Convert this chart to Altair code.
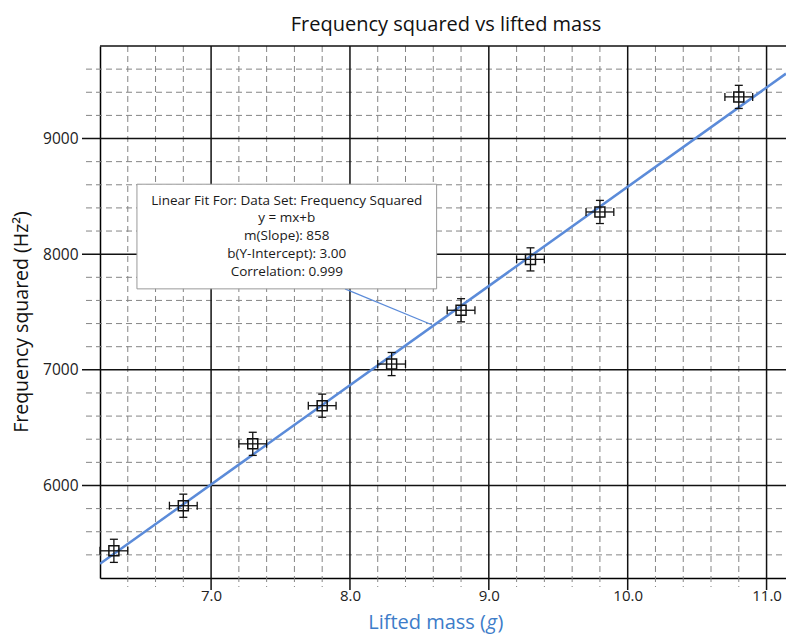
import altair as alt
import pandas as pd
import numpy as np

# ---- data ----
mass = [6.3, 6.8, 7.3, 7.8, 8.3, 8.8, 9.3, 9.8, 10.8]
freq_sq = [5435, 5825, 6360, 6690, 7050, 7515, 7955, 8365, 9360]
mass_err = [0.1, 0.1, 0.1, 0.1, 0.1, 0.1, 0.1, 0.1, 0.1]
freq_err = [100, 100, 100, 100, 100, 100, 100, 100, 100]

fit_slope = 858
fit_intercept = 3.00
fit_corr = 0.999

x_ticks = [7.0, 8.0, 9.0, 10.0, 11.0]
y_ticks = [6000, 7000, 8000, 9000]

annot_lines = [
    "Linear Fit For:  Data Set: Frequency Squared",
    "y = mx+b",
    "m(Slope): 858",
    "b(Y-Intercept): 3.00",
    "Correlation: 0.999",
]

# ---- layout / style ----
X_DOMAIN = [6.2, 11.14]
Y_DOMAIN = [5200, 9800]
W, H = 686, 532
FONT = "Open Sans"
BLUE = "#5b8bd9"
TITLE_BLUE = "#3d7cc9"

xscale = alt.Scale(domain=X_DOMAIN, nice=False, zero=False)
yscale = alt.Scale(domain=Y_DOMAIN, nice=False, zero=False)
xaxis = alt.Axis(values=x_ticks, format=".1f", title=None, grid=False, ticks=False,
                 domainColor="black", domainWidth=1.5, labelFontSize=15, labelFont=FONT,
                 labelColor="#222", labelPadding=10)
yaxis = alt.Axis(values=y_ticks, format="d", title=None, grid=False, ticks=False,
                 domainColor="black", domainWidth=1.5, labelFontSize=15.5, labelFont=FONT,
                 labelColor="#222", labelPadding=22)


def X(f):
    return alt.X(f, type="quantitative", scale=xscale, axis=xaxis)


def Y(f):
    return alt.Y(f, type="quantitative", scale=yscale, axis=yaxis)


# gridline positions
minor_x = [v for v in np.round(np.arange(6.4, 11.15, 0.2), 1) if abs(v - round(v)) > 1e-6]
minor_y = [v for v in range(5400, 9800, 200) if v % 1000 != 0]

df_mx = pd.DataFrame({"v": minor_x})
df_my = pd.DataFrame({"v": minor_y})
df_Mx = pd.DataFrame({"v": x_ticks})
df_My = pd.DataFrame({"v": y_ticks})

dash = dict(color="#858585", strokeDash=[6, 4], strokeWidth=1)
grid_minor_x = alt.Chart(df_mx).mark_rule(**dash).encode(x=X("v"), y=alt.value(0), y2=alt.value(H + 9))
grid_minor_y = alt.Chart(df_my).mark_rule(**dash).encode(y=Y("v"), x=alt.value(-14), x2=alt.value(W))
grid_major_x = alt.Chart(df_Mx).mark_rule(color="#111", strokeWidth=1.5).encode(
    x=X("v"), y=alt.value(0), y2=alt.value(H + 12))
grid_major_y = alt.Chart(df_My).mark_rule(color="#111", strokeWidth=1.5).encode(
    y=Y("v"), x=alt.value(-18), x2=alt.value(W))
top_border = alt.Chart(pd.DataFrame({"a": [0]})).mark_rule(color="#111", strokeWidth=1.5).encode(
    y=alt.value(0), x=alt.value(0), x2=alt.value(W))

# fit line
df_fit = pd.DataFrame({"x": X_DOMAIN})
fit = alt.Chart(df_fit).transform_calculate(
    y=f"{fit_slope} * datum.x + {fit_intercept}"
).mark_line(color=BLUE, strokeWidth=2.5, clip=True).encode(x=X("x"), y=Y("y"))

# data + error bars
df = pd.DataFrame({"m": mass, "f": freq_sq, "me": mass_err, "fe": freq_err})
df["xlo"] = df["m"] - df["me"]
df["xhi"] = df["m"] + df["me"]
df["flo"] = df["f"] - df["fe"]
df["fhi"] = df["f"] + df["fe"]
base = alt.Chart(df)
eb = dict(color="#111", strokeWidth=1.3)
err_h = base.mark_rule(**eb).encode(x=X("xlo"), x2=alt.X2("xhi"), y=Y("f"))
err_v = base.mark_rule(**eb).encode(x=X("m"), y=Y("flo"), y2=alt.Y2("fhi"))
cap_xl = base.mark_rule(yOffset=-4, y2Offset=4, **eb).encode(x=X("xlo"), y=Y("f"), y2=alt.Y2("f"))
cap_xh = base.mark_rule(yOffset=-4, y2Offset=4, **eb).encode(x=X("xhi"), y=Y("f"), y2=alt.Y2("f"))
cap_yl = base.mark_rule(xOffset=-4, x2Offset=4, **eb).encode(y=Y("flo"), x=X("m"), x2=alt.X2("m"))
cap_yh = base.mark_rule(xOffset=-4, x2Offset=4, **eb).encode(y=Y("fhi"), x=X("m"), x2=alt.X2("m"))
pts = base.mark_point(shape="square", filled=False, size=100, color="#111", strokeWidth=1.5,
                      opacity=1).encode(x=X("m"), y=Y("f"))

# annotation box (data coordinates)
ann = pd.DataFrame({"x": [6.466], "x2": [8.624], "y": [7700], "y2": [8605],
                    "tx": [7.545], "ty": [8462],
                    "cx": [7.964], "cy": [7700], "cx2": [8.59], "cy2": [7390]})
abase = alt.Chart(ann)
connector = abase.mark_rule(color=BLUE, strokeWidth=1.2).encode(
    x=X("cx"), y=Y("cy"), x2=alt.X2("cx2"), y2=alt.Y2("cy2"))
box = abase.mark_rect(fill="white", stroke="#9a9a9a", strokeWidth=1).encode(
    x=X("x"), x2=alt.X2("x2"), y=Y("y"), y2=alt.Y2("y2"))
box_text = abase.mark_text(text=annot_lines, font=FONT, fontSize=13.5, lineHeight=17.7,
                           color="#1a1a1a", align="center", baseline="middle").encode(
    x=X("tx"), y=Y("ty"))

# titles
one = pd.DataFrame({"a": [0]})
title = alt.Chart(one).mark_text(text="Frequency squared vs lifted mass", font=FONT, fontSize=20,
                                 color="#111", align="center", baseline="alphabetic").encode(
    x=alt.value(W / 2 + 3), y=alt.value(-15))
ytitle = alt.Chart(one).mark_text(text="Frequency squared (Hz²)", font=FONT, fontSize=19.5,
                                  color="#111", align="center", baseline="middle", angle=270).encode(
    x=alt.value(-78), y=alt.value(276))
xt1 = alt.Chart(one).mark_text(text="Lifted mass (", font=FONT, fontSize=20, color=TITLE_BLUE,
                               align="right", baseline="alphabetic").encode(x=alt.value(386), y=alt.value(583))
xt2 = alt.Chart(one).mark_text(text="g", font=FONT, fontSize=20, fontStyle="italic", color=TITLE_BLUE,
                               align="left", baseline="alphabetic").encode(x=alt.value(386.5), y=alt.value(583))
xt3 = alt.Chart(one).mark_text(text=")", font=FONT, fontSize=20, color=TITLE_BLUE,
                               align="left", baseline="alphabetic").encode(x=alt.value(397.5), y=alt.value(583))

chart = alt.layer(
    grid_minor_x, grid_minor_y, grid_major_x, grid_major_y, top_border,
    fit, err_h, err_v, cap_xl, cap_xh, cap_yl, cap_yh, pts,
    connector, box, box_text, title, ytitle, xt1, xt2, xt3,
).properties(
    width=W, height=H,
    padding={"left": 92, "top": 38, "right": 0, "bottom": 58},
    autosize=alt.AutoSizeParams(type="none"),
).configure_view(stroke=None)

chart.save("out.html", embed_options={"renderer": "svg", "actions": False})
